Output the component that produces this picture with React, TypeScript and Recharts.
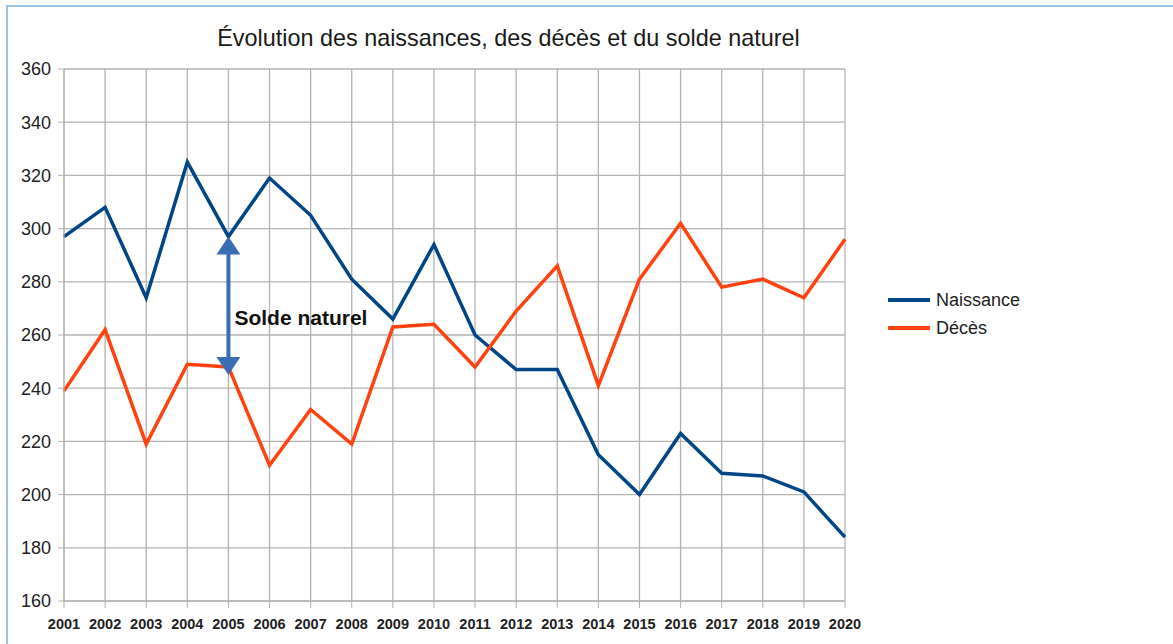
import React from 'react'
import { LineChart, Line, XAxis, YAxis, CartesianGrid, ReferenceLine, Legend } from 'recharts'

const years = ['2001', '2002', '2003', '2004', '2005', '2006', '2007', '2008', '2009', '2010', '2011', '2012', '2013', '2014', '2015', '2016', '2017', '2018', '2019', '2020']
const naissance = [297, 308, 274, 325, 297, 319, 305, 281, 266, 294, 260, 247, 247, 215, 200, 223, 208, 207, 201, 184]
const deces = [239, 262, 219, 249, 248, 211, 232, 219, 263, 264, 248, 269, 286, 241, 281, 302, 278, 281, 274, 296]
const yTicks = [160, 180, 200, 220, 240, 260, 280, 300, 320, 340, 360]
const seriesOrder = ['naissance', 'deces']
const arrowYear = '2005'
const arrowFrom = 297
const arrowTo = 245

const data = years.map((y, i) => ({ year: y, naissance: naissance[i], deces: deces[i] }))

const font = '"Liberation Sans", Arial, sans-serif'
const gridColor = '#b3b3b3'

const Arrow = (props: any) => {
  const { x1, y1, y2 } = props
  const head = 18
  const half = 12
  const color = '#3a6db3'
  return (
    <g>
      <line x1={x1} y1={y1 + head - 1} x2={x1} y2={y2 - head + 1} stroke={color} strokeWidth={4} />
      <polygon points={`${x1},${y1} ${x1 - half},${y1 + head} ${x1 + half},${y1 + head}`} fill={color} />
      <polygon points={`${x1},${y2} ${x1 - half},${y2 - head} ${x1 + half},${y2 - head}`} fill={color} />
      <text x={x1 + 6} y={(y1 + y2) / 2 + 12} dominantBaseline="central" fontFamily={font} fontSize={21} fontWeight="bold" fill="#111">
        Solde naturel
      </text>
    </g>
  )
}

const LegendBox = ({ payload }: any) => {
  const items = [...(payload || [])].sort((a: any, b: any) => seriesOrder.indexOf(a.dataKey) - seriesOrder.indexOf(b.dataKey))
  return (
    <div style={{ fontFamily: font, fontSize: 18, color: '#222' }}>
      {items.map((p: any) => (
        <div key={p.value} style={{ display: 'flex', alignItems: 'center', height: 28 }}>
          <span style={{ width: 42, height: 3.5, background: p.color, display: 'inline-block', marginRight: 6 }} />
          <span>{p.value}</span>
        </div>
      ))}
    </div>
  )
}

export default function App() {
  return (
    <div style={{ position: 'absolute', left: 0, top: 0, width: 1173, height: 644, background: '#fff' }}>
      <div style={{ position: 'absolute', left: 6, top: 5, width: 1167, height: 639, borderTop: '2px solid #9cc2e5', borderLeft: '2px solid #9cc2e5', boxSizing: 'border-box' }} />
      <div style={{ position: 'absolute', left: 0, top: 27, width: 1017, textAlign: 'center', fontFamily: font, fontSize: 23.4, lineHeight: '23px', color: '#1a1a1a' }}>
        Évolution des naissances, des décès et du solde naturel
      </div>
      <LineChart width={1173} height={644} data={data} margin={{ top: 69, right: 328, bottom: 13, left: 8 }} style={{ position: 'absolute', left: 0, top: 0 }}>
        <CartesianGrid stroke={gridColor} strokeWidth={1.3} />
        <XAxis
          dataKey="year"
          height={30}
          interval={0}
          tickSize={7}
          tickMargin={11}
          stroke={gridColor}
          tick={{ fill: '#222', fontSize: 14.5, fontWeight: 'bold', fontFamily: font }}
        />
        <YAxis
          width={56}
          domain={[160, 360]}
          ticks={yTicks}
          interval={0}
          tickSize={6}
          tickMargin={7}
          stroke={gridColor}
          tick={{ fill: '#222', fontSize: 18, fontFamily: font }}
        />
        <Line type="linear" dataKey="naissance" name="Naissance" stroke="#004586" strokeWidth={3.5} dot={false} isAnimationActive={false} />
        <Line type="linear" dataKey="deces" name="Décès" stroke="#ff420e" strokeWidth={3.5} dot={false} isAnimationActive={false} />
        <ReferenceLine segment={[{ x: arrowYear, y: arrowFrom }, { x: arrowYear, y: arrowTo }]} shape={<Arrow />} />
        <Legend
          layout="vertical"
          align="center"
          verticalAlign="middle"
          content={<LegendBox />}
          wrapperStyle={{ left: 888, top: 286, width: 160 }}
        />
      </LineChart>
    </div>
  )
}
